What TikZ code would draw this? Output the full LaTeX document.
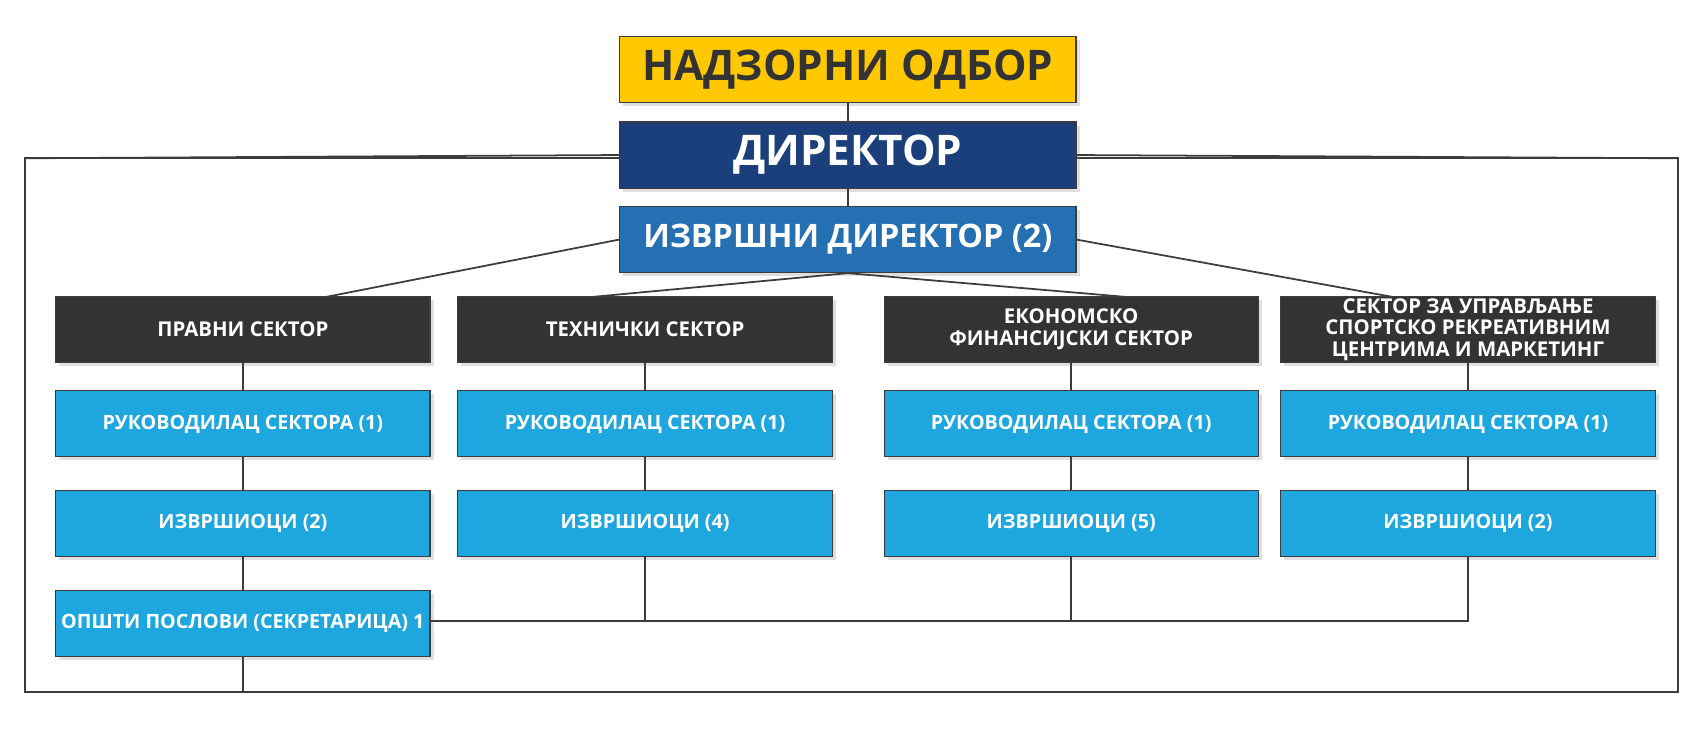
\documentclass[tikz,border=0pt]{standalone}
\usepackage{fontspec}
\setmainfont{Open Sans}
\usetikzlibrary{positioning,shadows}
\definecolor{color-board}{RGB}{255,200,0}
\definecolor{color-dir}{RGB}{27,63,123}
\definecolor{color-exec}{RGB}{36,112,178}
\definecolor{color-sector}{RGB}{51,51,51}
\definecolor{color-unit}{RGB}{30,167,223}
\definecolor{color-line}{RGB}{60,60,60}

\begin{document}
\begin{tikzpicture}[x=0.01084cm, y=-0.01084cm, font=\bfseries,
box/.style={draw=color-line, line width=0.3pt, inner sep=0pt, align=center, drop shadow={opacity=0.25, shadow xshift=1pt, shadow yshift=-1pt}},
top/.style={box, fill=#1, minimum width=4.56cm, minimum height=0.66cm},
sec/.style={box, fill=color-sector, text=white, minimum width=3.74cm, minimum height=0.66cm, font=\bfseries\fontsize{5.8}{6.2}\selectfont},
unit/.style={box, fill=color-unit, text=white, minimum width=3.74cm, minimum height=0.66cm, font=\bfseries\fontsize{5.6}{6.5}\selectfont},
wire/.style={draw=color-line, line width=0.5pt}]
\useasboundingbox (0,0) rectangle (1568,687);
% frame
\draw[wire] (23,146) rectangle (1548,638);
% top
\node[top=color-board, text=color-sector, font=\bfseries\fontsize{12}{13}\selectfont] (board) at (782,64) {НАДЗОРНИ ОДБОР};
\node[top=color-dir, text=white, font=\bfseries\fontsize{12}{13}\selectfont] (dir) at (782,143) {ДИРЕКТОР};
\node[top=color-exec, text=white, font=\bfseries\fontsize{9.2}{10}\selectfont] (exec) at (782,221) {ИЗВРШНИ ДИРЕКТОР (2)};
% sectors
\node[sec] (s1) at (224,304) {ПРАВНИ СЕКТОР};
\node[sec] (s2) at (595,304) {ТЕХНИЧКИ СЕКТОР};
\node[sec] (s3) at (988,304) {ЕКОНОМСКО\\ФИНАНСИЈСКИ СЕКТОР};
\node[sec] (s4) at (1354,304) {СЕКТОР ЗА УПРАВЉАЊЕ\\СПОРТСКО РЕКРЕАТИВНИМ\\ЦЕНТРИМА И МАРКЕТИНГ};
% units
\node[unit] (h1) at (224,391) {РУКОВОДИЛАЦ СЕКТОРА (1)};
\node[unit] (h2) at (595,391) {РУКОВОДИЛАЦ СЕКТОРА (1)};
\node[unit] (h3) at (988,391) {РУКОВОДИЛАЦ СЕКТОРА (1)};
\node[unit] (h4) at (1354,391) {РУКОВОДИЛАЦ СЕКТОРА (1)};
\node[unit] (e1) at (224,483) {ИЗВРШИОЦИ (2)};
\node[unit] (e2) at (595,483) {ИЗВРШИОЦИ (4)};
\node[unit] (e3) at (988,483) {ИЗВРШИОЦИ (5)};
\node[unit] (e4) at (1354,483) {ИЗВРШИОЦИ (2)};
\node[unit] (g1) at (224,575) {ОПШТИ ПОСЛОВИ (СЕКРЕТАРИЦА) 1};
% connectors
\coordinate (fl) at (23,146);
\coordinate (fr) at (1548,146);
\coordinate (fb) at (224,638);
\coordinate (j2) at (595,573);
\coordinate (j3) at (988,573);
\coordinate (j4) at (1354,573);
\draw[wire] (board) -- (dir);
\draw[wire] (dir) -- (exec);
\draw[wire] (dir.west) -- (fl);
\draw[wire] (dir.east) -- (fr);
\draw[wire] (exec.west) -- (300,274);
\draw[wire] (exec.south) -- (545,274);
\draw[wire] (exec.south) -- (1040,274);
\draw[wire] (exec.east) -- (1285,274);
\foreach \c in {1,2,3,4} {
  \draw[wire] (s\c) -- (h\c);
  \draw[wire] (h\c) -- (e\c);
}
\draw[wire] (e1) -- (g1);
\draw[wire] (g1) -- (fb);
\draw[wire] (e2) -- (j2);
\draw[wire] (e3) -- (j3);
\draw[wire] (e4) -- (j4) -- (g1.east |- j4);
\end{tikzpicture}
\end{document}
